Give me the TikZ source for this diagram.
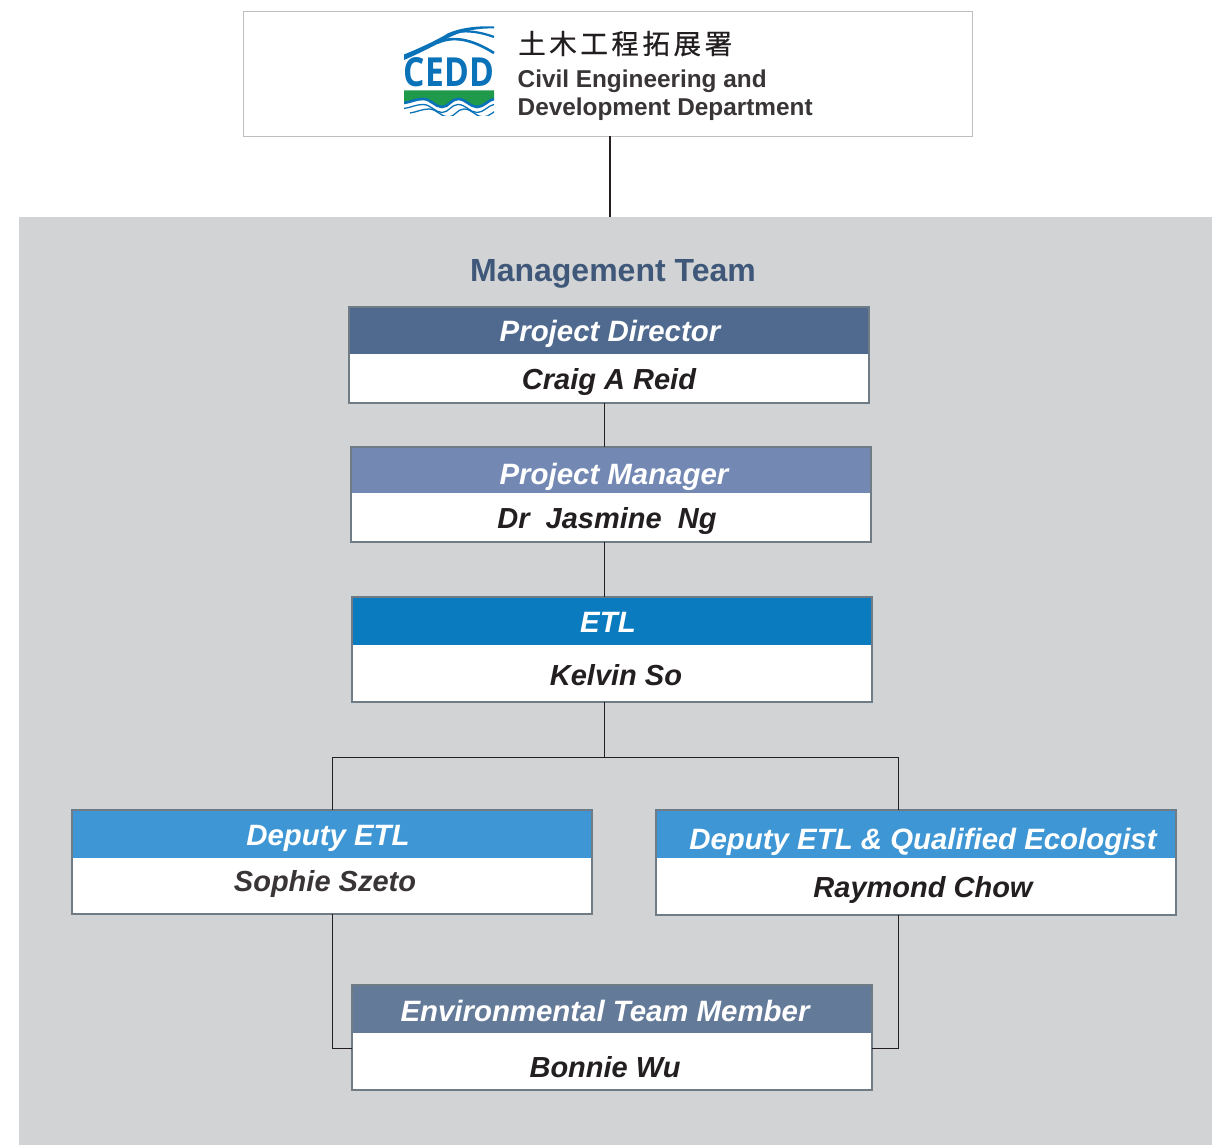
\documentclass[tikz,border=0pt]{standalone}
\usepackage{fontspec}
\setmainfont{Liberation Sans}
\newfontfamily\cjkfont[LetterSpace=13,FakeBold=0.6]{Noto Sans CJK TC}
\newfontfamily\logofont{Open Sans}
\definecolor{panelgrey}{HTML}{D1D3D4}
\definecolor{edgegrey}{HTML}{6F7C85}
\definecolor{titleblue}{HTML}{3F5879}
\definecolor{hdirector}{HTML}{50698F}
\definecolor{hmanager}{HTML}{7389B4}
\definecolor{hetl}{HTML}{0A7BBF}
\definecolor{hdeputy}{HTML}{3E97D4}
\definecolor{hmember}{HTML}{647A99}
\definecolor{inkdark}{HTML}{231F20}
\definecolor{logoblue}{HTML}{0A72B8}
\definecolor{logogreen}{HTML}{1E9A4A}
\tikzset{
  x=1pt,y=-1pt,
  cardbox/.style={fill=white,inner sep=0pt,outer sep=0pt,anchor=north west},
  headbox/.style={fill=#1,draw=none,inner sep=0pt,outer sep=0pt,anchor=north west},
  headtext/.style={text=white,anchor=base,font=\bfseries\itshape\fontsize{29.4}{32}\selectfont,inner sep=0pt},
  nametext/.style={text=inkdark,anchor=base,font=\bfseries\itshape\fontsize{29}{32}\selectfont,inner sep=0pt},
  link/.style={draw=inkdark,line width=1.3pt},
  cardedge/.style={draw=edgegrey,line width=2pt},
  waveline/.style={draw=logoblue,line width=1.3pt},
}
\newcommand{\wavepath}{(404,103) .. controls (411,102) and (416,99) .. (423,99) .. controls (431,99) and (435,107) .. (442,107) .. controls (449,107) and (451,99) .. (458,99) .. controls (466,99) and (470,107) .. (477,107) .. controls (484,107) and (488,100) .. (494,99)}
\begin{document}
\begin{tikzpicture}
\useasboundingbox (0,0) rectangle (1212,1145);
\fill[white] (0,0) rectangle (1212,1145);
\node[fill=panelgrey,inner sep=0pt,outer sep=0pt,anchor=north west,minimum width=1193pt,minimum height=928pt] (panel) at (19,217) {};
\node[draw=black!25,line width=1pt,fill=white,inner sep=0pt,outer sep=0pt,anchor=north west,minimum width=729.5pt,minimum height=125pt] (logobox) at (243,11.5) {};
% logo
\fill[logoblue] (404,54.5) .. controls (420,48) and (435,41) .. (447,34) .. controls (458,28) and (478,25.5) .. (494,26.5) -- (494,28.5) .. controls (478,28) and (462,31) .. (450,37) .. controls (436,45) and (420,53) .. (404,60) -- cycle;
\draw[draw=logoblue,line width=2.2pt] (447,35) .. controls (460,29) and (478,31) .. (494,37);
\draw[draw=logoblue,line width=2.6pt] (437,43) .. controls (452,36) and (470,38) .. (494,53);
\node[text=logoblue,inner sep=0pt,font=\logofont\bfseries] (cedd) at (449,72.5) {\resizebox{90pt}{29pt}{CEDD}};
\fill[logogreen] (404,90.5) -- (494,90.5) -- (494,99) .. controls (488,100) and (484,107) .. (477,107) .. controls (470,107) and (466,99) .. (458,99) .. controls (451,99) and (449,107) .. (442,107) .. controls (435,107) and (431,99) .. (423,99) .. controls (416,99) and (411,102) .. (404,103) -- cycle;
\begin{scope}
\clip (404,96) rectangle (494,115.5);
\draw[draw=logoblue,line width=2.6pt] \wavepath;
\begin{scope}[shift={(0,5.5)}]
\draw[waveline] \wavepath;
\end{scope}
\begin{scope}[shift={(6,10)}]
\draw[waveline] \wavepath;
\end{scope}
\end{scope}
\node[inner sep=0pt,anchor=west,font=\cjkfont\fontsize{27.5}{30}\selectfont,text=inkdark] (cname) at (518,43.5) {土木工程拓展署};
\node[inner sep=0pt,anchor=base west,font=\bfseries\fontsize{24.35}{26}\selectfont,text=inkdark!90] (ename1) at (517.5,88) {Civil Engineering and};
\node[inner sep=0pt,anchor=base west,font=\bfseries\fontsize{24.35}{26}\selectfont,text=inkdark!90] (ename2) at (517.5,116) {Development Department};
\node[inner sep=0pt,anchor=base,font=\bfseries\fontsize{32}{34}\selectfont,text=titleblue] (mgmt) at (613,281) {Management Team};
% cards
\node[cardbox,minimum width=520pt,minimum height=95.5pt] (pd) at (348.5,307) {};
\node[headbox=hdirector,minimum width=520pt,minimum height=47pt] (pdh) at (348.5,307) {};
\draw[cardedge] (pd.north west) rectangle (pd.south east);
\node[headtext] (pdt) at (610,341) {Project Director};
\node[nametext] (pdn) at (609,389) {Craig A Reid};
\node[cardbox,minimum width=520pt,minimum height=95.5pt] (pm) at (350.5,446.5) {};
\node[headbox=hmanager,minimum width=520pt,minimum height=46pt] (pmh) at (350.5,446.5) {};
\draw[cardedge] (pm.north west) rectangle (pm.south east);
\node[headtext] (pmt) at (614,484) {Project Manager};
\node[nametext] (pmn) at (607,528) {Dr\ \ Jasmine\ \ Ng};
\node[cardbox,minimum width=520pt,minimum height=104.5pt] (etl) at (351.5,597) {};
\node[headbox=hetl,minimum width=520pt,minimum height=48pt] (etlh) at (351.5,597) {};
\draw[cardedge] (etl.north west) rectangle (etl.south east);
\node[headtext] (etlt) at (608,632) {ETL};
\node[nametext] (etln) at (616,685) {Kelvin So};
\node[cardbox,minimum width=520pt,minimum height=104.5pt] (dl) at (71.5,809.5) {};
\node[headbox=hdeputy,minimum width=520pt,minimum height=48pt] (dlh) at (71.5,809.5) {};
\draw[cardedge] (dl.north west) rectangle (dl.south east);
\node[headtext] (dlt) at (328,845) {Deputy ETL};
\node[nametext,text=inkdark!90] (dln) at (325,891) {Sophie Szeto};
\node[cardbox,minimum width=520pt,minimum height=104.5pt] (dr) at (655.5,810) {};
\node[headbox=hdeputy,minimum width=520pt,minimum height=48pt] (drh) at (655.5,810) {};
\draw[cardedge] (dr.north west) rectangle (dr.south east);
\node[headtext] (drt) at (923,849) {Deputy ETL \& Qualified Ecologist};
\node[nametext] (drn) at (923,897) {Raymond Chow};
\node[cardbox,minimum width=520pt,minimum height=104.5pt] (em) at (351.5,985) {};
\node[headbox=hmember,minimum width=520pt,minimum height=48pt] (emh) at (351.5,985) {};
\draw[cardedge] (em.north west) rectangle (em.south east);
\node[headtext] (emt) at (605,1021) {Environmental Team Member};
\node[nametext] (emn) at (605,1077) {Bonnie Wu};
% connectors
\coordinate (spine) at (604.5,757.5);
\coordinate (bendl) at (332.5,757.5);
\coordinate (bendr) at (898.5,757.5);
\coordinate (topx) at (610,217);
\coordinate (lowl) at (332.5,1048.5);
\coordinate (lowr) at (898.5,1048.5);
\draw[link] (logobox.south -| topx) -- (panel.north -| topx);
\draw[link] (pd.south -| spine) -- (pm.north -| spine);
\draw[link] (pm.south -| spine) -- (etl.north -| spine);
\draw[link] (etl.south -| spine) -- (spine);
\draw[link] (dl.north -| bendl) -- (bendl) -- (bendr) -- (dr.north -| bendr);
\draw[link] (dl.south -| lowl) -- (lowl) -- (em.west |- lowl);
\draw[link] (dr.south -| lowr) -- (lowr) -- (em.east |- lowr);
\end{tikzpicture}
\end{document}
